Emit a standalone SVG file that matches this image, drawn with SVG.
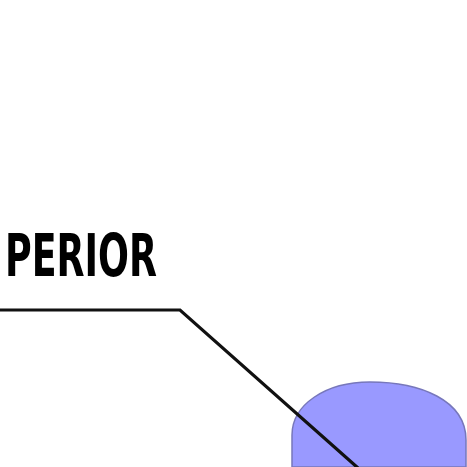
<svg xmlns="http://www.w3.org/2000/svg" width="467" height="467" viewBox="0 0 467 467">
<style>
.lbl{font-family:"DejaVu Sans Condensed","Liberation Sans",sans-serif;font-weight:bold;font-size:58px;fill:#000}
.conn{fill:none;stroke:#111;stroke-width:3.2;stroke-linejoin:miter}
</style>
<rect width="467" height="467" fill="#fff"/>
<g id="blob">
<path d="M292,467 L292,435 C292,405 325,382 370,382 C420,382 466,400 466,440 L466,467 Z" fill="#9999ff" stroke="#7777bb" stroke-width="1.5"/>
</g>
<g id="label">
<text class="lbl" x="5" y="276" textLength="152" lengthAdjust="spacingAndGlyphs">PERIOR</text>
</g>
<g id="connectors">
<polyline class="conn" points="-2,310 180,310 358,468"/>
</g>
</svg>
